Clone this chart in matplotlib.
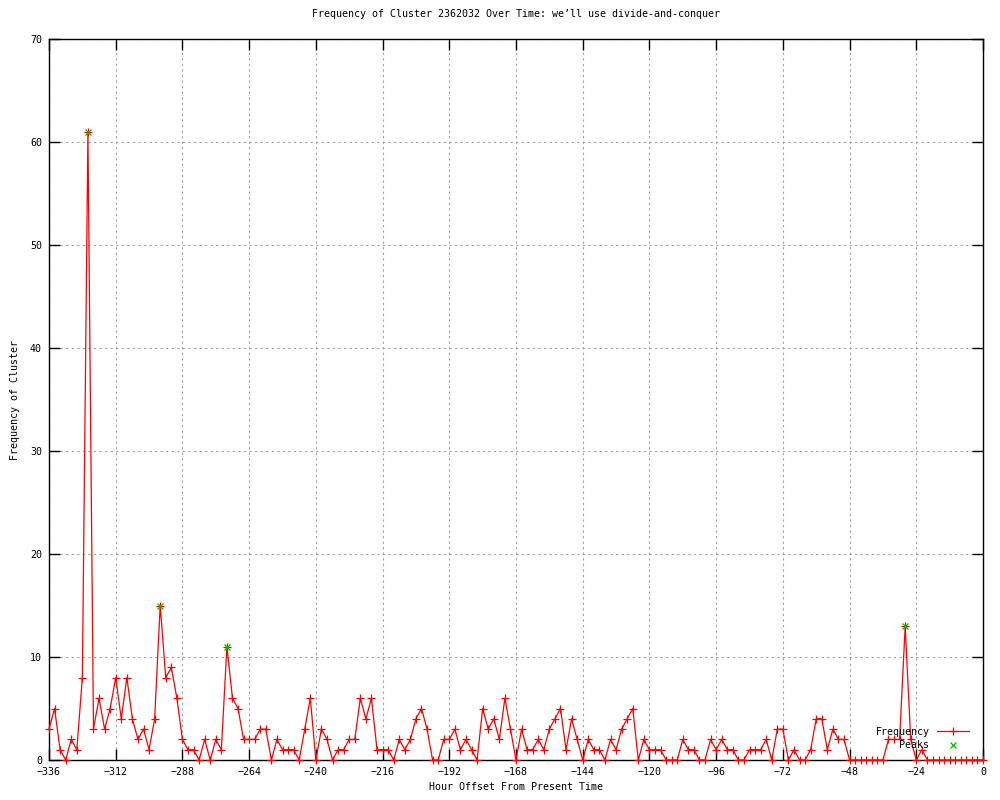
import matplotlib
matplotlib.use("Agg")
import matplotlib.pyplot as plt
import numpy as np

# hour offsets, every 2 hours from -336 to 0
hours = np.arange(-336, 1, 2)
freq = [
    3, 5, 1, 0, 2, 1, 8, 61, 3, 6, 3, 5, 8, 4, 8, 4, 2, 3, 1, 4,      # -336 .. -298
    15, 8, 9, 6, 2, 1, 1, 0, 2, 0, 2, 1, 11, 6, 5, 2, 2, 2, 3, 3,      # -296 .. -258
    0, 2, 1, 1, 1, 0, 3, 6, 0, 3, 2, 0, 1, 1, 2, 2, 6, 4, 6, 1,        # -256 .. -218
    1, 1, 0, 2, 1, 2, 4, 5, 3, 0, 0, 2, 2, 3, 1, 2, 1, 0, 5, 3,        # -216 .. -178
    4, 2, 6, 3, 0, 3, 1, 1, 2, 1, 3, 4, 5, 1, 4, 2, 0, 2, 1, 1,        # -176 .. -138
    0, 2, 1, 3, 4, 5, 0, 2, 1, 1, 1, 0, 0, 0, 2, 1, 1, 0, 0, 2,        # -136 .. -98
    1, 2, 1, 1, 0, 0, 1, 1, 1, 2, 0, 3, 3, 0, 1, 0, 0, 1, 4, 4,        # -96 .. -58
    1, 3, 2, 2, 0, 0, 0, 0, 0, 0, 0, 2, 2, 2, 13, 2, 0, 1, 0, 0,       # -56 .. -18
    0, 0, 0, 0, 0, 0, 0, 0, 0,                                         # -16 .. 0
]
peak_hours = [-322, -296, -272, -28]
peak_vals = [61, 15, 11, 13]

x_ticks = np.arange(-336, 1, 24)
y_ticks = np.arange(0, 71, 10)

plt.rcParams['font.family'] = ['DejaVu Sans Mono']
plt.rcParams['font.size'] = 7.2

fig = plt.figure(figsize=(10, 8), dpi=100)
ax = fig.add_axes([0.049, 0.05, 0.934, 0.901])

ax.plot(hours, freq, color="red", linewidth=0.9, marker="+", markersize=6,
        markeredgewidth=0.9, label="Frequency", clip_on=False, zorder=3)
ax.plot(peak_hours, peak_vals, linestyle="none", color="#00c000", marker="x",
        markersize=5, markeredgewidth=0.9, label="Peaks", clip_on=False, zorder=4)

ax.set_xlim(-336, 0)
ax.set_ylim(0, 70)
ax.set_xticks(x_ticks)
ax.set_yticks(y_ticks)
ax.grid(True, color="#a0a0a0", linestyle=(0, (2, 3)), linewidth=0.8)
ax.set_axisbelow(True)
ax.tick_params(direction="in", length=8, width=1, top=True, right=True,
               labelsize=7.2, pad=5, colors="black")
for s in ax.spines.values():
    s.set_linewidth(1)

ax.set_title("Frequency of Cluster 2362032 Over Time: we\u2019ll use divide-and-conquer",
             fontsize=7.2, pad=16)
ax.set_xlabel("Hour Offset From Present Time", fontsize=7.2, labelpad=4)
ax.set_ylabel("Frequency of Cluster", fontsize=7.2, labelpad=7)

leg = ax.legend(loc="lower right", bbox_to_anchor=(0.993, 0.004), frameon=False,
                markerfirst=False, fontsize=7.2, handlelength=3.2,
                handletextpad=0.8, labelspacing=0.35, borderaxespad=0.3)
for t in leg.get_texts():
    t.set_ha("right")

fig.savefig("out.png", dpi=100)
